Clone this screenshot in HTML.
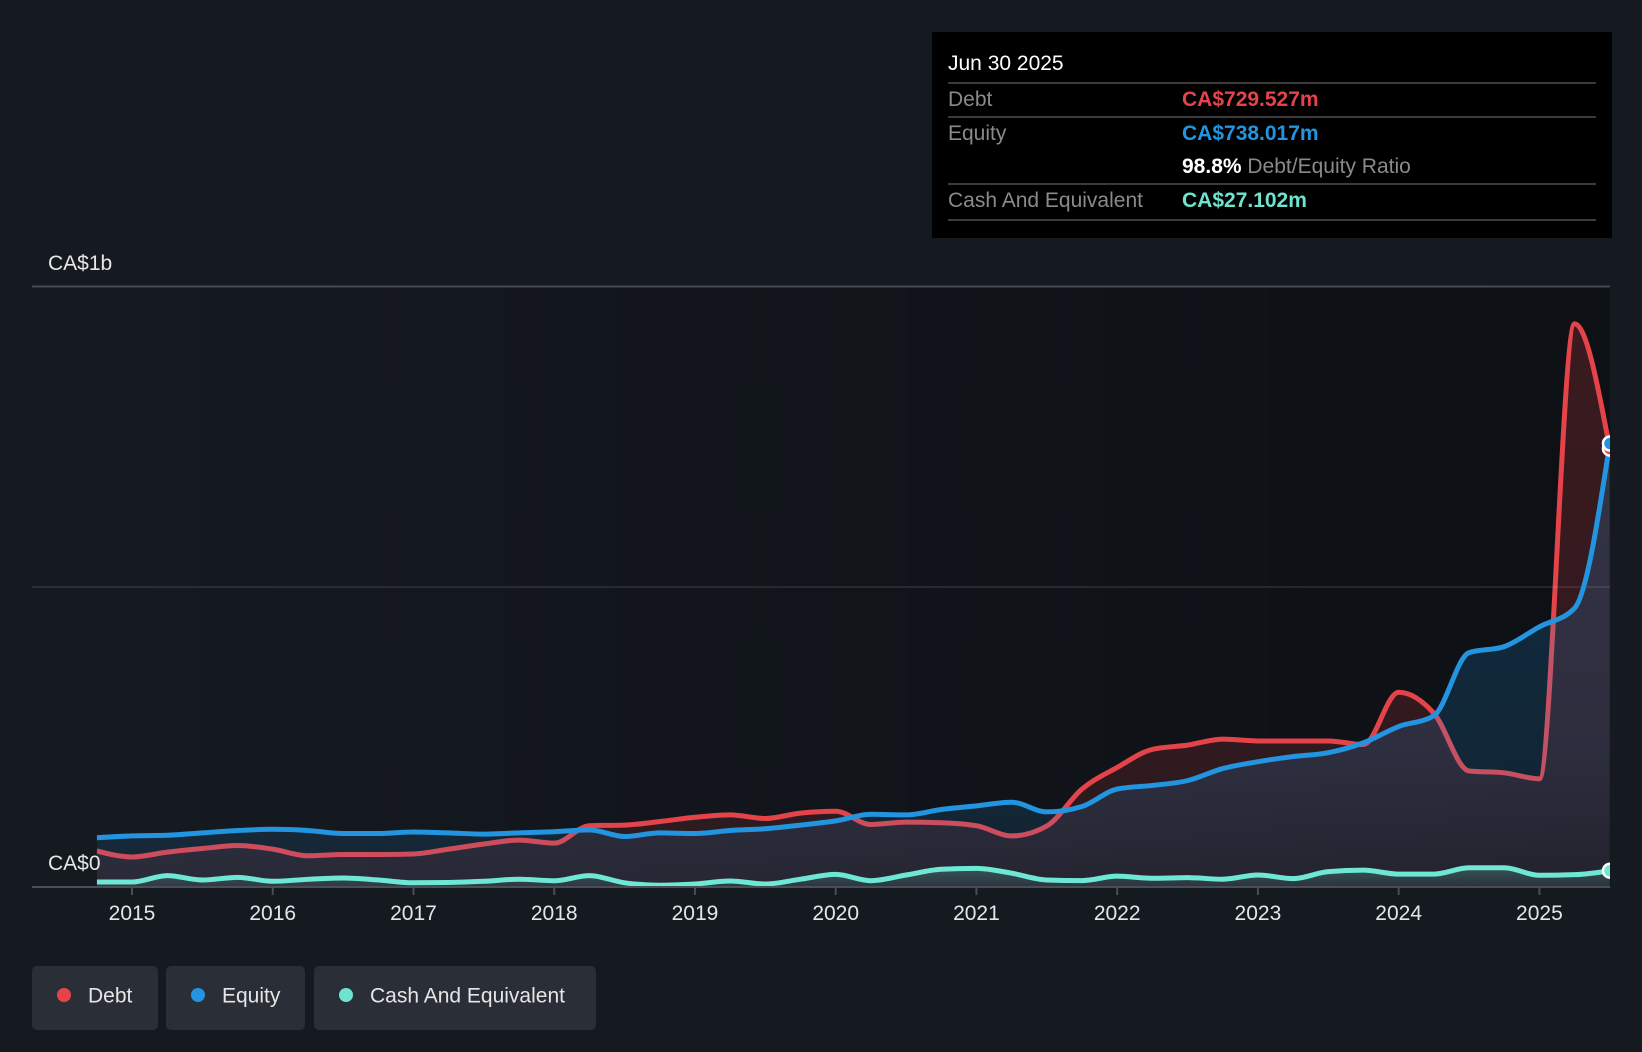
<!DOCTYPE html>
<html>
<head>
<meta charset="utf-8">
<style>
  html,body{margin:0;padding:0;background:#151a21;width:1642px;height:1052px;overflow:hidden;}
  svg{display:block;font-family:"Liberation Sans",Arial,sans-serif;}
</style>
</head>
<body>
<svg id="chart" width="1642" height="1052" viewBox="0 0 1642 1052" xmlns="http://www.w3.org/2000/svg">
  <defs>
    <linearGradient id="plotBg" x1="0" y1="0" x2="1" y2="0">
      <stop offset="0" stop-color="#000" stop-opacity="0"/>
      <stop offset="1" stop-color="#000" stop-opacity="0.4"/>
    </linearGradient>
    <linearGradient id="debtFill" x1="0" y1="0" x2="0" y2="1">
      <stop offset="0" stop-color="#e5434a" stop-opacity="0.21"/>
      <stop offset="0.7" stop-color="#e5434a" stop-opacity="0.165"/>
      <stop offset="1" stop-color="#e5434a" stop-opacity="0.10"/>
    </linearGradient>
    <linearGradient id="eqFill" x1="0" y1="0" x2="0" y2="1">
      <stop offset="0" stop-color="#2394df" stop-opacity="0.21"/>
      <stop offset="0.7" stop-color="#2394df" stop-opacity="0.17"/>
      <stop offset="1" stop-color="#2394df" stop-opacity="0.10"/>
    </linearGradient>
    <linearGradient id="cashFill" x1="0" y1="0" x2="0" y2="1">
      <stop offset="0" stop-color="#6ee3cf" stop-opacity="0.24"/>
      <stop offset="1" stop-color="#6ee3cf" stop-opacity="0.08"/>
    </linearGradient>
    <clipPath id="plotClip">
      <rect x="96.8" y="0" width="1513.2" height="890"/>
    </clipPath>
  </defs>

  <rect x="0" y="0" width="1642" height="1052" fill="#151a21"/>
  <rect x="96.8" y="286" width="1513.2" height="601" fill="url(#plotBg)"/>

  <g clip-path="url(#plotClip)">
    <path id="debtArea" fill="url(#debtFill)" d=""/>
    <path id="debtLine" fill="none" stroke="#e5434a" stroke-width="5" stroke-linejoin="round" d=""/>
    <path id="eqArea" fill="url(#eqFill)" d=""/>
    <path id="cashArea" fill="url(#cashFill)" d=""/>
  </g>

  <!-- gridlines -->
  <line x1="32" y1="286.5" x2="1610" y2="286.5" stroke="#464950" stroke-width="2"/>
  <line x1="32" y1="587" x2="1610" y2="587" stroke="#ffffff" stroke-opacity="0.09" stroke-width="2"/>

  <g clip-path="url(#plotClip)">
    <path id="eqLine" fill="none" stroke="#2394df" stroke-width="5" stroke-linejoin="round" d=""/>
    <path id="cashLine" fill="none" stroke="#6ee8d4" stroke-width="5" stroke-linejoin="round" d=""/>
    <circle cx="1610" cy="448.6" r="7" fill="#e5434a" stroke="#fff" stroke-width="2.5"/>
    <circle cx="1610" cy="443.5" r="7" fill="#2394df" stroke="#fff" stroke-width="2.5"/>
    <circle cx="1610" cy="870.7" r="7" fill="#6ee8d4" stroke="#fff" stroke-width="2.5"/>
  </g>

  <!-- axis -->
  <line x1="32" y1="887" x2="1610" y2="887" stroke="#4a4d55" stroke-width="2"/>
  <g id="ticks" stroke="#4a4d55" stroke-width="2"></g>
  <g id="years" fill="#e6e6e6" font-size="21" text-anchor="middle"></g>

  <text x="48" y="270" fill="#e6e6e6" font-size="21">CA$1b</text>
  <text x="48" y="870" fill="#e6e6e6" font-size="21">CA$0</text>

  <!-- tooltip -->
  <rect x="932" y="32" width="680" height="206" fill="#000"/>
  <text x="948" y="70" fill="#ffffff" font-size="21">Jun 30 2025</text>
  <line x1="948" y1="83" x2="1596" y2="83" stroke="#3a3a3a" stroke-width="2"/>
  <text x="948" y="106" fill="#8a8a8a" font-size="21">Debt</text>
  <text x="1182" y="106" fill="#e5434a" font-size="21" font-weight="bold">CA$729.527m</text>
  <line x1="948" y1="117" x2="1596" y2="117" stroke="#3a3a3a" stroke-width="2"/>
  <text x="948" y="140" fill="#8a8a8a" font-size="21">Equity</text>
  <text x="1182" y="140" fill="#2394df" font-size="21" font-weight="bold">CA$738.017m</text>
  <text x="1182" y="173" font-size="21"><tspan fill="#ffffff" font-weight="bold">98.8%</tspan><tspan fill="#8a8a8a"> Debt/Equity Ratio</tspan></text>
  <line x1="948" y1="184" x2="1596" y2="184" stroke="#3a3a3a" stroke-width="2"/>
  <text x="948" y="207" fill="#8a8a8a" font-size="21">Cash And Equivalent</text>
  <text x="1182" y="207" fill="#6ee3cf" font-size="21" font-weight="bold">CA$27.102m</text>
  <line x1="948" y1="220" x2="1596" y2="220" stroke="#3a3a3a" stroke-width="2"/>

  <!-- legend -->
  <rect x="32" y="966" width="126" height="64" rx="5" fill="#2a2e37"/>
  <circle cx="64" cy="995" r="7" fill="#e5434a"/>
  <text x="88" y="1002.5" fill="#e6e6e6" font-size="21">Debt</text>

  <rect x="166" y="966" width="139" height="64" rx="5" fill="#2a2e37"/>
  <circle cx="198" cy="995" r="7" fill="#2394df"/>
  <text x="222" y="1002.5" fill="#e6e6e6" font-size="21">Equity</text>

  <rect x="314" y="966" width="282" height="64" rx="5" fill="#2a2e37"/>
  <circle cx="346" cy="995" r="7" fill="#6ee3cf"/>
  <text x="370" y="1002.5" fill="#e6e6e6" font-size="21">Cash And Equivalent</text>
</svg>

<script>
(function(){
  var debt=[0.060,0.050,0.058,0.064,0.069,0.063,0.052,0.054,0.054,0.055,0.063,0.0715,0.078,0.073,0.102,0.103,0.109,0.116,0.120,0.114,0.123,0.126,0.104,0.108,0.107,0.102,0.085,0.1015,0.163,0.199,0.229,0.236,0.246,0.243,0.243,0.243,0.237,0.324,0.289,0.193,0.190,0.180,0.937,0.7295];
  var eq=[0.082,0.085,0.086,0.090,0.094,0.096,0.094,0.089,0.089,0.0915,0.090,0.088,0.090,0.092,0.095,0.084,0.090,0.089,0.094,0.097,0.103,0.110,0.121,0.120,0.129,0.135,0.141,0.125,0.134,0.163,0.169,0.177,0.197,0.2085,0.217,0.2235,0.240,0.267,0.285,0.390,0.400,0.433,0.464,0.738];
  var cash=[0.0083,0.0083,0.019,0.0117,0.016,0.0095,0.0128,0.015,0.0117,0.007,0.0075,0.0095,0.013,0.0105,0.019,0.007,0.003,0.005,0.010,0.005,0.013,0.021,0.0105,0.020,0.0295,0.031,0.023,0.0117,0.0107,0.018,0.0145,0.0155,0.013,0.020,0.014,0.0255,0.028,0.0215,0.0215,0.032,0.032,0.0195,0.0205,0.0271];
  var Y0=887, SC=601, X2015=132, YR=140.74;
  function X(i){return X2015+(i-1)*YR/4;}
  function Y(v){return Y0-v*SC;}
  function sign(x){return x<0?-1:1;}
  function mono(vals){
    var n=vals.length, xs=[], ys=[], m=[], i;
    for(i=0;i<n;i++){xs.push(X(i));ys.push(Y(vals[i]));}
    for(i=1;i<n-1;i++){
      var h0=xs[i]-xs[i-1], h1=xs[i+1]-xs[i];
      var s0=(ys[i]-ys[i-1])/h0, s1=(ys[i+1]-ys[i])/h1;
      var p=(s0*h1+s1*h0)/(h0+h1);
      m[i]=(sign(s0)+sign(s1))*Math.min(Math.abs(s0),Math.abs(s1),0.5*Math.abs(p))||0;
    }
    var h=xs[1]-xs[0];
    m[0]=(3*(ys[1]-ys[0])/h-m[1])/2;
    var hn=xs[n-1]-xs[n-2];
    m[n-1]=(3*(ys[n-1]-ys[n-2])/hn-m[n-2])/2;
    var d="M"+xs[0].toFixed(2)+","+ys[0].toFixed(2);
    for(i=0;i<n-1;i++){
      var dx=(xs[i+1]-xs[i])/3;
      d+="C"+(xs[i]+dx).toFixed(2)+","+(ys[i]+dx*m[i]).toFixed(2)+","+(xs[i+1]-dx).toFixed(2)+","+(ys[i+1]-dx*m[i+1]).toFixed(2)+","+xs[i+1].toFixed(2)+","+ys[i+1].toFixed(2);
    }
    return {line:d, area:d+"L"+xs[n-1].toFixed(2)+","+Y0+"L"+xs[0].toFixed(2)+","+Y0+"Z"};
  }
  var a=mono(debt), b=mono(eq), c=mono(cash);
  document.getElementById("debtLine").setAttribute("d",a.line);
  document.getElementById("debtArea").setAttribute("d",a.area);
  document.getElementById("eqLine").setAttribute("d",b.line);
  document.getElementById("eqArea").setAttribute("d",b.area);
  document.getElementById("cashLine").setAttribute("d",c.line);
  document.getElementById("cashArea").setAttribute("d",c.area);

  var NS="http://www.w3.org/2000/svg";
  var tg=document.getElementById("ticks"), yg=document.getElementById("years");
  for(var k=0;k<=10;k++){
    var x=X2015+k*YR;
    var l=document.createElementNS(NS,"line");
    l.setAttribute("x1",x);l.setAttribute("x2",x);l.setAttribute("y1",887);l.setAttribute("y2",895);
    tg.appendChild(l);
    var t=document.createElementNS(NS,"text");
    t.setAttribute("x",x);t.setAttribute("y",920);
    t.textContent=String(2015+k);
    yg.appendChild(t);
  }
})();
</script>
</body>
</html>
